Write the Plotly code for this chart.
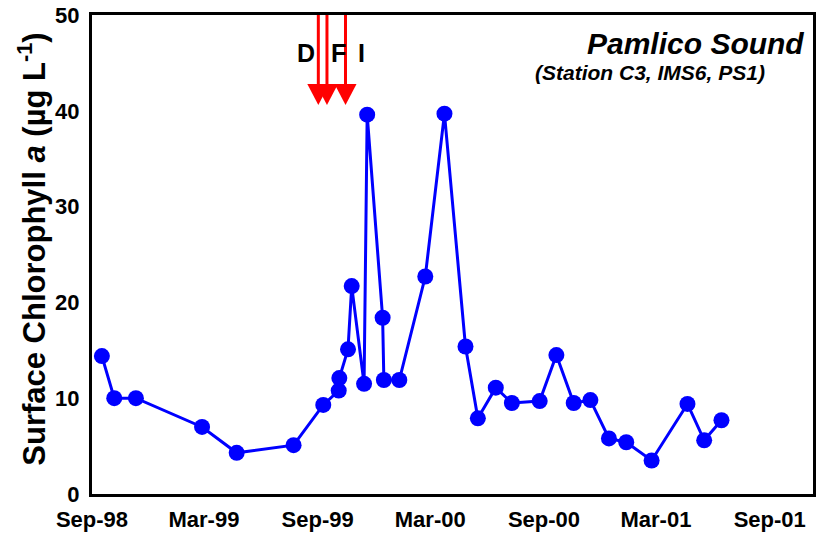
import plotly.graph_objects as go

# ---- data ----
dates = [
    "1998-09-17", "1998-10-07", "1998-11-11", "1999-02-26", "1999-04-23",
    "1999-07-24", "1999-09-10", "1999-10-05", "1999-10-06", "1999-10-20",
    "1999-10-26", "1999-11-15", "1999-11-20", "1999-12-15", "1999-12-17",
    "2000-01-11", "2000-02-22", "2000-03-24", "2000-04-27", "2000-05-17",
    "2000-06-15", "2000-07-11", "2000-08-25", "2000-09-21", "2000-10-19",
    "2000-11-15", "2000-12-15", "2001-01-12", "2001-02-22", "2001-04-21",
    "2001-05-18", "2001-06-15",
]
chl = [
    14.4, 10.0, 10.0, 7.0, 4.3,
    5.1, 9.3, 10.8, 12.1, 15.1,
    21.7, 11.5, 39.6, 18.4, 11.9,
    11.9, 22.7, 39.7, 15.4, 7.9,
    11.1, 9.5, 9.7, 14.5, 9.5,
    9.8, 5.8, 5.4, 3.5, 9.4,
    5.6, 7.7,
]

tick_dates = ["1998-09-01", "1999-03-01", "1999-09-01", "2000-03-01",
              "2000-09-01", "2001-03-01", "2001-09-01"]
tick_labels = ["Sep-98", "Mar-99", "Sep-99", "Mar-00", "Sep-00", "Mar-01", "Sep-01"]
y_ticks = [0, 10, 20, 30, 40, 50]

hurricane_dates = ["1999-09-02", "1999-09-16", "1999-10-16"]
hurricane_labels = ["D", "F", "I"]
label_shift = [-12, 12, 16]

FONT = "Liberation Sans, Arial, sans-serif"
BLUE = "#0000FF"
RED = "#FF0000"

fig = go.Figure()
fig.add_trace(go.Scatter(
    x=dates, y=chl, mode="lines+markers",
    line=dict(color=BLUE, width=3),
    marker=dict(color=BLUE, size=16),
    showlegend=False, hoverinfo="skip",
))

shapes = []
annotations = []
for d, lab, sh in zip(hurricane_dates, hurricane_labels, label_shift):
    shapes.append(dict(type="line", xref="x", yref="y", x0=d, x1=d, y0=50, y1=42.6,
                       line=dict(color=RED, width=3)))
    shapes.append(dict(type="path", xref="x", yref="y", xsizemode="pixel", ysizemode="pixel",
                       xanchor=d, yanchor=40.6,
                       path="M -11 21 L 11 21 L 0 0 Z",
                       fillcolor=RED, line=dict(color=RED, width=0)))
    annotations.append(dict(x=d, y=46.0, xref="x", yref="y", text=lab, showarrow=False,
                            xshift=sh, font=dict(family=FONT, size=25, color="black", weight="bold")))

annotations.append(dict(x=0, y=0.51, xref="paper", yref="paper", xanchor="center", yanchor="middle",
                        xshift=-60, textangle=-90, showarrow=False,
                        text="Surface Chlorophyll <i>a</i> (µg L<sup>-1</sup>)",
                        font=dict(family=FONT, size=31, color="black", weight="bold")))
annotations.append(dict(x=0.99, y=0.94, xref="paper", yref="paper", xanchor="right", yanchor="middle",
                        showarrow=False, text="<i>Pamlico Sound</i>",
                        font=dict(family=FONT, size=30, color="black", weight="bold")))
annotations.append(dict(x=0.936, y=0.881, xref="paper", yref="paper", xanchor="right", yanchor="middle",
                        showarrow=False, text="<i>(Station C3, IMS6, PS1)</i>",
                        font=dict(family=FONT, size=21, color="black", weight="bold")))

fig.update_layout(
    width=828, height=533,
    margin=dict(l=92, r=15, t=15, b=39),
    paper_bgcolor="white", plot_bgcolor="white",
    shapes=shapes, annotations=annotations,
    xaxis=dict(type="date", range=["1998-09-01", "2001-11-10"], automargin=False,
               tickmode="array", tickvals=tick_dates, ticktext=tick_labels,
               showgrid=False, zeroline=False, ticks="", ticklabelstandoff=4,
               showline=True, linecolor="black", linewidth=3, mirror=True,
               tickfont=dict(family=FONT, size=22, color="black", weight="bold")),
    yaxis=dict(range=[0, 50], tickmode="array", tickvals=y_ticks, automargin=False,
               showgrid=False, zeroline=False, ticks="", ticklabelstandoff=5,
               showline=True, linecolor="black", linewidth=3, mirror=True,
               tickfont=dict(family=FONT, size=22, color="black", weight="bold")),
)

fig.write_html("out.html")
